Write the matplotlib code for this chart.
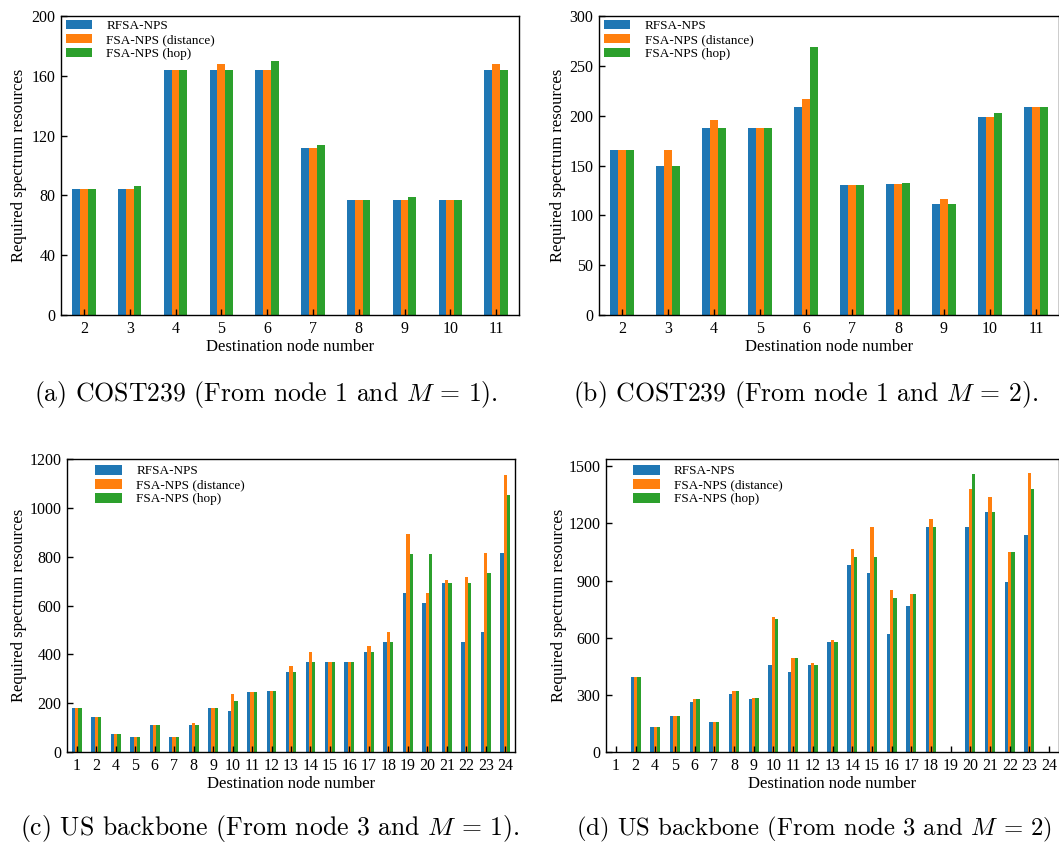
import matplotlib
matplotlib.use("Agg")
import matplotlib.pyplot as plt
import numpy as np

plt.rcParams['font.family'] = 'Liberation Serif'
plt.rcParams['mathtext.fontset'] = 'cm'

W, H = 1059, 844

labels = ["RFSA-NPS", "FSA-NPS (distance)", "FSA-NPS (hop)"]
colors = ["#1f77b4", "#ff7f0e", "#2ca02c"]

# COST239, from node 1
cost_nodes = ["2", "3", "4", "5", "6", "7", "8", "9", "10", "11"]
cost_m1_rfsa = [84, 84, 164, 164, 164, 112, 77, 77, 77, 164]
cost_m1_dist = [84, 84, 164, 168, 164, 112, 77, 77, 77, 168]
cost_m1_hop = [84, 86, 164, 164, 170, 114, 77, 79, 77, 164]

cost_m2_rfsa = [166, 149, 188, 188, 209, 130, 131, 111, 199, 209]
cost_m2_dist = [166, 166, 196, 188, 217, 130, 131, 116, 199, 209]
cost_m2_hop = [166, 149, 188, 188, 269, 130, 132, 111, 203, 209]

# US backbone, from node 3
us_nodes = ["1", "2", "4", "5", "6", "7", "8", "9", "10", "11", "12", "13",
            "14", "15", "16", "17", "18", "19", "20", "21", "22", "23", "24"]
us_m1_rfsa = [180, 144, 75, 62, 112, 62, 112, 180, 169, 246, 250, 328,
              369, 369, 369, 410, 450, 650, 610, 691, 450, 491, 814]
us_m1_dist = [180, 144, 75, 62, 112, 62, 120, 180, 238, 246, 250, 352,
              410, 369, 369, 434, 491, 891, 650, 703, 716, 814, 1136]
us_m1_hop = [180, 144, 75, 62, 112, 62, 112, 180, 210, 246, 250, 328,
             369, 369, 369, 410, 450, 810, 810, 691, 691, 732, 1054]

us_m2_rfsa = [0, 393, 132, 190, 263, 158, 305, 279, 456, 420, 456, 577,
              979, 937, 618, 765, 1183, 0, 1183, 1261, 890, 1141, 0]
us_m2_dist = [0, 393, 132, 190, 279, 158, 321, 284, 707, 493, 467, 587,
              1063, 1183, 848, 827, 1225, 0, 1381, 1340, 1052, 1465, 0]
us_m2_hop = [0, 393, 132, 190, 279, 158, 321, 284, 697, 493, 456, 577,
             1021, 1021, 807, 827, 1183, 0, 1460, 1261, 1052, 1381, 0]


def add_ax(fig, left, top, right, bottom):
    # pixel box -> figure fraction
    return fig.add_axes([left / W, 1 - bottom / H, (right - left) / W, (bottom - top) / H])


def draw(ax, nodes, series, ylim, yticks, leg_dx, leg_dy, ylab_x):
    x = np.arange(len(nodes))
    w = 0.17
    for i, (vals, lab, col) in enumerate(zip(series, labels, colors)):
        ax.bar(x + (i - 1) * w, vals, w, color=col, label=lab, linewidth=0)
    ax.set_xticks(x)
    ax.set_xticklabels(nodes)
    ax.set_xlim(-0.5, len(nodes) - 0.5)
    ax.set_ylim(*ylim)
    ax.set_yticks(yticks)
    ax.tick_params(direction='in', length=4.5, width=1, labelsize=11.5, pad=4)
    for s in ax.spines.values():
        s.set_linewidth(1.0)
    ax.set_xlabel("Destination node number", fontsize=12, labelpad=2)
    ax.set_ylabel("Required spectrum resources", fontsize=12)
    ax.yaxis.set_label_coords(ylab_x, 0.5)
    ax.legend(loc='upper left', bbox_to_anchor=(leg_dx, 1 - leg_dy), frameon=False,
              fontsize=9.5, handlelength=2.0, handleheight=0.75, labelspacing=0.12,
              handletextpad=1.1, borderaxespad=0, borderpad=0)


fig = plt.figure(figsize=(W / 100, H / 100), dpi=100)

ax_a = add_ax(fig, 61, 16, 519, 315)
draw(ax_a, cost_nodes, [cost_m1_rfsa, cost_m1_dist, cost_m1_hop],
     (0, 200), [0, 40, 80, 120, 160, 200], 0.01, 0.012, -0.075)

ax_b = add_ax(fig, 599, 16, 1059, 315)
draw(ax_b, cost_nodes, [cost_m2_rfsa, cost_m2_dist, cost_m2_hop],
     (0, 300), [0, 50, 100, 150, 200, 250, 300], 0.01, 0.012, -0.072)

ax_c = add_ax(fig, 67, 459, 515, 752)
draw(ax_c, us_nodes, [us_m1_rfsa, us_m1_dist, us_m1_hop],
     (0, 1200), [0, 200, 400, 600, 800, 1000, 1200], 0.063, 0.02, -0.09)

ax_d = add_ax(fig, 606, 459, 1059, 752)
draw(ax_d, us_nodes, [us_m2_rfsa, us_m2_dist, us_m2_hop],
     (0, 1538), [0, 300, 600, 900, 1200, 1500], 0.06, 0.02, -0.087)

cap = dict(family='cmr10', fontsize=18.5, ha='center', va='center')
fig.text(266 / W, 1 - 395 / H, "(a) COST239 (From node 1 and $M$ = 1).", **cap)
fig.text(806 / W, 1 - 395 / H, "(b) COST239 (From node 1 and $M$ = 2).", **cap)
fig.text(270 / W, 1 - 829 / H, "(c) US backbone (From node 3 and $M$ = 1).", **cap)
fig.text(576 / W, 1 - 829 / H, "(d) US backbone (From node 3 and $M$ = 2)",
         family='cmr10', fontsize=17.8, ha='left', va='center')

fig.savefig("out.png", dpi=100)
